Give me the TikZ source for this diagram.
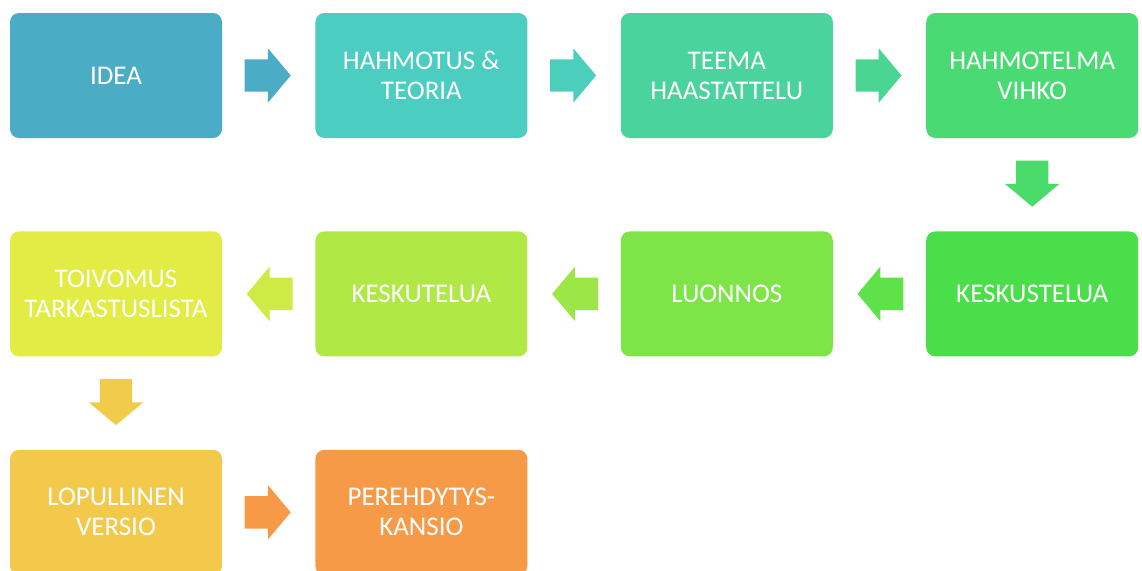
\documentclass[tikz,border=0pt]{standalone}
\usepackage{fontspec}
\setmainfont{Carlito}
\usetikzlibrary{shapes.arrows,positioning,calc}
\definecolor{cidea}{HTML}{4BACC6}
\definecolor{cteoria}{HTML}{4BCDC1}
\definecolor{cteema}{HTML}{4AD39C}
\definecolor{cvihko}{HTML}{4ADA73}
\definecolor{ckesk}{HTML}{4ADF4A}
\definecolor{cluon}{HTML}{7EE548}
\definecolor{ckeskut}{HTML}{B0E846}
\definecolor{ctoivo}{HTML}{E2EC45}
\definecolor{cversio}{HTML}{F2C94A}
\definecolor{ckansio}{HTML}{F79A48}
\tikzstyle{block} = [rectangle, text=white, align=center, rounded corners=9pt,
    minimum width=212pt, minimum height=125pt, inner sep=0pt,
    font=\fontsize{27}{30}\selectfont]
\tikzstyle{flow} = [single arrow, inner xsep=0pt, inner ysep=16pt, minimum height=46pt,
    single arrow head extend=11pt, single arrow tip angle=100, anchor=tail]

\begin{document}
\begin{tikzpicture}[node distance=93pt]
		\useasboundingbox (0pt,0pt) rectangle (1142pt,-570pt);
		% first row
		\node [block, fill=cidea] (idea) at (116pt,-75.5pt) {IDEA};
		\node [block, fill=cteoria, right=of idea] (teoria) {HAHMOTUS \&\\TEORIA};
		\node [block, fill=cteema, right=of teoria] (teema) {TEEMA\\HAASTATTELU};
		\node [block, fill=cvihko, right=of teema] (vihko) {HAHMOTELMA\\VIHKO};
		% second row
		\node [block, fill=ckesk, below=of vihko] (kesk) {KESKUSTELUA};
		\node [block, fill=cluon, left=of kesk] (luon) {LUONNOS};
		\node [block, fill=ckeskut, left=of luon] (keskut) {KESKUTELUA};
		\node [block, fill=ctoivo, left=of keskut] (toivo) {TOIVOMUS\\TARKASTUSLISTA};
		% third row
		\node [block, fill=cversio, below=of toivo] (versio) {LOPULLINEN\\VERSIO};
		\node [block, fill=ckansio, right=of versio] (kansio) {PEREHDYTYS-\\KANSIO};
		
		\node [flow, fill=cidea] at ($(idea.east)!0.24!(teoria.west)$) {};
		\node [flow, fill=cteoria!85!cteema] at ($(teoria.east)!0.24!(teema.west)$) {};
		\node [flow, fill=cteema!75!cvihko] at ($(teema.east)!0.24!(vihko.west)$) {};
		\node [flow, fill=cvihko!80!ckesk, rotate=-90] at ($(vihko.south)!0.24!(kesk.north)$) {};
		\node [flow, fill=ckesk!60!cluon, rotate=180] at ($(kesk.west)!0.24!(luon.east)$) {};
		\node [flow, fill=cluon!40!ckeskut, rotate=180] at ($(luon.west)!0.24!(keskut.east)$) {};
		\node [flow, fill=ckeskut!40!ctoivo, rotate=180] at ($(keskut.west)!0.24!(toivo.east)$) {};
		\node [flow, fill=cversio!90!ctoivo, rotate=-90] at ($(toivo.south)!0.24!(versio.north)$) {};
		\node [flow, fill=ckansio] at ($(versio.east)!0.24!(kansio.west)$) {};
	\end{tikzpicture}
\end{document}
